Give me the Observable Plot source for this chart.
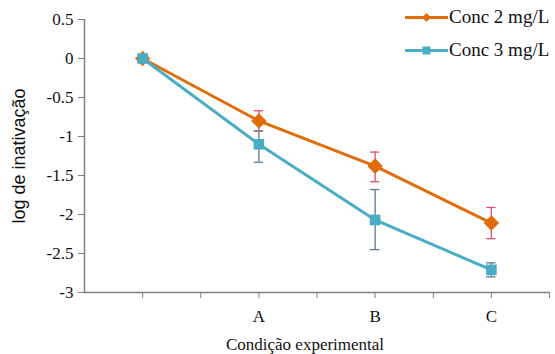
<!DOCTYPE html>
<html>
<head>
<meta charset="utf-8">
<script src="https://cdn.jsdelivr.net/npm/d3@7"></script>
<script src="https://cdn.jsdelivr.net/npm/@observablehq/plot@0.6"></script>
</head>
<body style="margin:0;padding:0;background:#fff;">
<div id="wrap" style="position:relative;width:555px;height:354px;"></div>
<script>
// Data
const categories = ["", "A", "B", "C"];
const xPositions = [1, 3, 5, 7];
const seriesNames = ["Conc 2 mg/L", "Conc 3 mg/L"];
const conc2 = [0, -0.80, -1.38, -2.11];
const conc2Low = [0, -0.93, -1.58, -2.31];
const conc2High = [0, -0.67, -1.20, -1.91];
const conc3 = [0, -1.10, -2.07, -2.71];
const conc3Low = [0, -1.33, -2.45, -2.80];
const conc3High = [0, -0.93, -1.68, -2.62];
const yTicks = [0.5, 0, -0.5, -1, -1.5, -2, -2.5, -3];
const xTicks = [1, 2, 3, 4, 5, 6, 7, 8];
const xTickLabels = {3: "A", 5: "B", 7: "C"};
const yTitle = "log de inativação";
const xTitle = "Condição experimental";

const orange = "#e36c0a";
const blue = "#4bacc6";
const orangeErr = "#e0506a";
const blueErr = "#5f7a92";
const SERIF = "'Liberation Serif', 'Times New Roman', serif";
const SANS = "'Liberation Sans', Arial, sans-serif";

const rows = [];
xPositions.forEach((x, i) => {
  rows.push({series: seriesNames[0], x, y: conc2[i], lo: conc2Low[i], hi: conc2High[i], cat: categories[i]});
});
xPositions.forEach((x, i) => {
  rows.push({series: seriesNames[1], x, y: conc3[i], lo: conc3Low[i], hi: conc3High[i], cat: categories[i]});
});
const s2 = rows.filter(d => d.series === seriesNames[0]);
const s3 = rows.filter(d => d.series === seriesNames[1]);
const err2 = s2.filter(d => d.hi !== d.lo);
const err3 = s3.filter(d => d.hi !== d.lo);
const cap = 0.08;

const chart = Plot.plot({
  width: 555,
  height: 354,
  marginLeft: 84,
  marginRight: 6,
  marginTop: 19,
  marginBottom: 62,
  style: `font-family: ${SERIF}; font-size: 17px; background: #fff; overflow: visible;`,
  x: {domain: [0, 8]},
  y: {domain: [-3, 0.5]},
  marks: [
    Plot.ruleY([-3], {stroke: "#808080", strokeWidth: 1.5}),
    Plot.ruleX([0], {stroke: "#808080", strokeWidth: 1.5}),
    Plot.axisY({ticks: yTicks, tickSize: 6, tickPadding: 5, stroke: "#808080", strokeOpacity: 1, tickFormat: d => String(d), label: yTitle, labelAnchor: "center", labelArrow: "none", labelOffset: 72}),
    Plot.axisX({ticks: xTicks, tickSize: 6, tickPadding: 11, stroke: "#808080", strokeOpacity: 1, tickFormat: d => xTickLabels[d] || "", label: xTitle, labelAnchor: "center", labelArrow: "none", labelOffset: 57}),
    Plot.line(s2, {x: "x", y: "y", stroke: orange, strokeWidth: 3}),
    Plot.line(s3, {x: "x", y: "y", stroke: blue, strokeWidth: 3}),
    Plot.ruleX(err2, {x: "x", y1: "lo", y2: "hi", stroke: orangeErr, strokeWidth: 1.3}),
    Plot.ruleY(err2, {y: "lo", x1: d => d.x - cap, x2: d => d.x + cap, stroke: orangeErr, strokeWidth: 1.3}),
    Plot.ruleY(err2, {y: "hi", x1: d => d.x - cap, x2: d => d.x + cap, stroke: orangeErr, strokeWidth: 1.3}),
    Plot.dot(s2, {x: "x", y: "y", symbol: "diamond2", r: 7, fill: orange, stroke: "none"}),
    Plot.ruleX(err3, {x: "x", y1: "lo", y2: "hi", stroke: blueErr, strokeWidth: 1.3}),
    Plot.ruleY(err3, {y: "lo", x1: d => d.x - cap, x2: d => d.x + cap, stroke: blueErr, strokeWidth: 1.3}),
    Plot.ruleY(err3, {y: "hi", x1: d => d.x - cap, x2: d => d.x + cap, stroke: blueErr, strokeWidth: 1.3}),
    Plot.dot(s3, {x: "x", y: "y", symbol: "square", r: 6, fill: blue, stroke: "none"})
  ]
});
chart.querySelectorAll("text").forEach(t => {
  t.style.fontFamily = SERIF;
  t.style.fontSize = "17px";
  t.style.fill = "#111";
  if (t.textContent === yTitle) {
    t.style.fontFamily = SANS;
    t.style.fontSize = "18px";
  }
  if (t.textContent === xTitle) {
    t.setAttribute("dx", "-12");
  }
});
const wrap = document.getElementById("wrap");
wrap.appendChild(chart);

// Legend
const legendItems = [
  {name: seriesNames[0], color: orange, shape: "diamond", top: 5},
  {name: seriesNames[1], color: blue, shape: "square", top: 38}
];
legendItems.forEach(it => {
  const div = document.createElement("div");
  div.style.cssText = `position:absolute;left:405px;top:${it.top}px;font-family:${SERIF};font-size:19px;line-height:24px;color:#111;display:flex;align-items:center;white-space:nowrap;`;
  const marker = it.shape === "diamond"
    ? `<path d="M21.5,5 L26,9.5 L21.5,14 L17,9.5 Z" fill="${it.color}"/>`
    : `<rect x="17.5" y="5.5" width="8" height="8" fill="${it.color}"/>`;
  div.innerHTML = `<svg width="43" height="19" style="margin-right:1px"><line x1="0" x2="43" y1="9.5" y2="9.5" stroke="${it.color}" stroke-width="3"/>${marker}</svg><span>${it.name}</span>`;
  wrap.appendChild(div);
});
</script>
</body>
</html>
